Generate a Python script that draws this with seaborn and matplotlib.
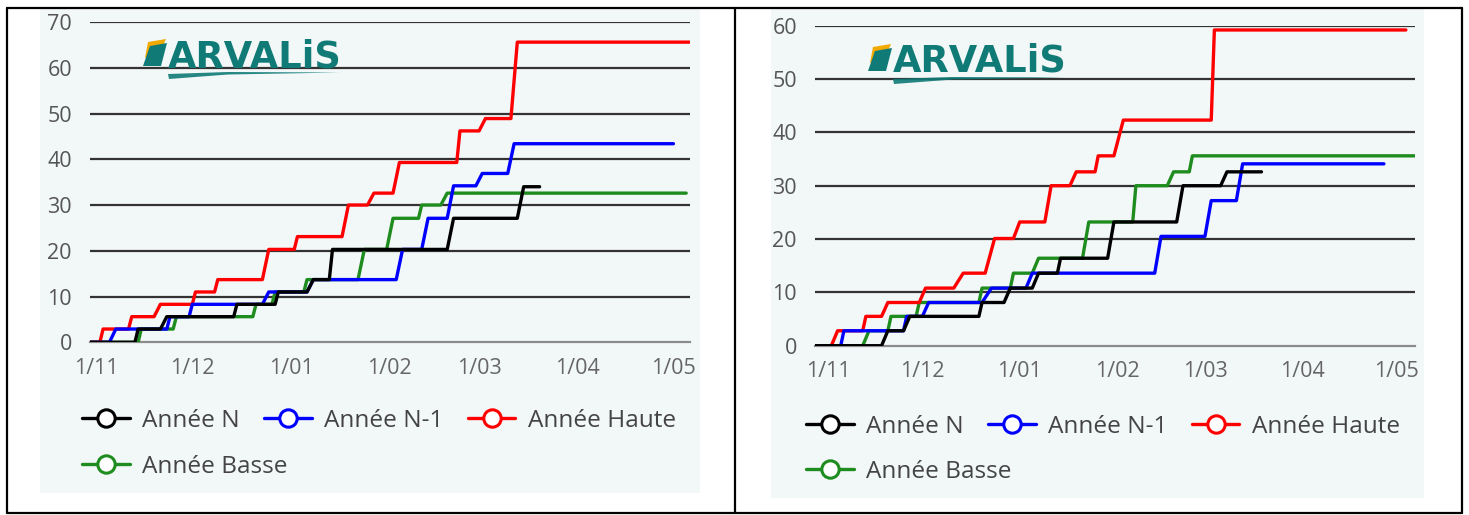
import matplotlib
matplotlib.use("Agg")
import matplotlib.pyplot as plt
import seaborn as sns
import pandas as pd
from matplotlib.lines import Line2D
from matplotlib.patches import Rectangle, Polygon

base = pd.Timestamp("2022-11-01")

# graphique de gauche
g_n_days = [-2, 12, 13, 20, 22, 43, 44, 56, 57, 66, 68, 73, 74, 110, 112, 132, 134, 139]
g_n_vals = [0, 0, 2.9, 2.9, 5.6, 5.6, 8.3, 8.3, 11.0, 11.0, 13.7, 13.7, 20.3, 20.3, 27.1, 27.1, 34.0, 34.0]
g_n1_days = [-2, 4, 6, 22, 23, 29, 30, 52, 54, 66, 68, 94, 96, 102, 104, 110, 112, 119, 121, 129, 131, 181]
g_n1_vals = [0, 0, 2.9, 2.9, 5.6, 5.6, 8.3, 8.3, 11.0, 11.0, 13.7, 13.7, 20.3, 20.3, 27.1, 27.1, 34.2, 34.2,
             36.9, 36.9, 43.4, 43.4]
g_haute_days = [-2, 1, 2, 10, 11, 18, 20, 30, 31, 37, 38, 52, 54, 62, 63, 77, 79, 85, 87, 93, 95, 113, 114,
                120, 122, 130, 132, 186]
g_haute_vals = [0, 0, 2.9, 2.9, 5.6, 5.6, 8.3, 8.3, 11.0, 11.0, 13.7, 13.7, 20.3, 20.3, 23.1, 23.1, 30.0, 30.0,
                32.6, 32.6, 39.3, 39.3, 46.2, 46.2, 48.9, 48.9, 65.6, 65.6]
g_basse_days = [-2, 13, 14, 24, 25, 49, 50, 55, 56, 65, 66, 82, 84, 91, 93, 101, 102, 108, 110, 185]
g_basse_vals = [0, 0, 2.9, 2.9, 5.6, 5.6, 8.3, 8.3, 11.0, 11.0, 13.7, 13.7, 20.3, 20.3, 27.1, 27.1, 30.0, 30.0,
                32.6, 32.6]

# graphique de droite
d_n_days = [-4, 17, 19, 24, 26, 48, 49, 56, 58, 65, 67, 73, 74, 89, 91, 111, 113, 125, 127, 138]
d_n_vals = [0, 0, 2.8, 2.8, 5.5, 5.5, 8.1, 8.1, 10.8, 10.8, 13.6, 13.6, 16.4, 16.4, 23.2, 23.2, 30.0, 30.0,
            32.6, 32.6]
d_n1_days = [-4, 4, 5, 24, 25, 30, 32, 49, 52, 63, 65, 104, 106, 120, 122, 130, 132, 177]
d_n1_vals = [0, 0, 2.8, 2.8, 5.5, 5.5, 8.1, 8.1, 10.8, 10.8, 13.6, 13.6, 20.5, 20.5, 27.2, 27.2, 34.1, 34.1]
d_haute_days = [-4, 1, 3, 11, 12, 17, 19, 29, 31, 40, 43, 50, 53, 59, 61, 69, 71, 77, 79, 85, 86, 91, 94,
                122, 123, 184]
d_haute_vals = [0, 0, 2.8, 2.8, 5.5, 5.5, 8.1, 8.1, 10.8, 10.8, 13.6, 13.6, 20.1, 20.1, 23.2, 23.2, 30.0, 30.0,
                32.6, 32.6, 35.6, 35.6, 42.3, 42.3, 59.2, 59.2]
d_basse_days = [-4, 11, 13, 19, 20, 28, 29, 48, 49, 58, 59, 65, 67, 81, 83, 97, 98, 108, 110, 115, 116, 187]
d_basse_vals = [0, 0, 2.8, 2.8, 5.5, 5.5, 8.1, 8.1, 10.8, 10.8, 13.6, 13.6, 16.4, 16.4, 23.2, 23.2, 30.0, 30.0,
                32.6, 32.6, 35.6, 35.6]

labels = ["Année N", "Année N-1", "Année Haute", "Année Basse"]
couleurs = {"Année N": "#000000", "Année N-1": "#0000ff", "Année Haute": "#ff0000", "Année Basse": "#1e8c1e"}
tick_days = [0, 30, 61, 92, 120, 151, 181]
tick_labels = ["1/11", "1/12", "1/01", "1/02", "1/03", "1/04", "1/05"]

gauche = {"Année N": (g_n_days, g_n_vals), "Année N-1": (g_n1_days, g_n1_vals),
          "Année Haute": (g_haute_days, g_haute_vals), "Année Basse": (g_basse_days, g_basse_vals)}
droite = {"Année N": (d_n_days, d_n_vals), "Année N-1": (d_n1_days, d_n1_vals),
          "Année Haute": (d_haute_days, d_haute_vals), "Année Basse": (d_basse_days, d_basse_vals)}

W, H = 1469, 515
fig = plt.figure(figsize=(W / 100, H / 100), dpi=100)
sns.set_style("white")
plt.rcParams["font.family"] = ["Open Sans", "DejaVu Sans"]


def fx(x):
    return x / W


def fy(y):
    return 1 - y / H


# fonds clairs et cadre du tableau
for (x0, y0, x1, y1) in [(40, 9, 700, 493), (771, 9, 1424, 498)]:
    fig.add_artist(Rectangle((fx(x0), fy(y1)), fx(x1) - fx(x0), fy(y0) - fy(y1),
                             transform=fig.transFigure, facecolor="#f2f7f7", edgecolor="none", zorder=-2))
for (xa, ya, xb, yb) in [(7, 8, 1462, 8), (7, 513, 1462, 513), (7, 8, 7, 513), (735, 8, 735, 513),
                         (1462, 8, 1462, 513)]:
    fig.add_artist(Line2D([fx(xa), fx(xb)], [fy(ya), fy(yb)], transform=fig.transFigure,
                          color="black", lw=1.6, zorder=10))


def panneau(rect, series, ymax, xlim, logo_x, logo_y, leg_x, leg_y1, leg_y2):
    left, top, right, bottom = rect
    ax = fig.add_axes([fx(left), fy(bottom), fx(right) - fx(left), fy(top) - fy(bottom)])
    ax.set_facecolor("none")
    for lab in ["Année Basse", "Année Haute", "Année N-1", "Année N"]:
        days, vals = series[lab]
        df = pd.DataFrame({"date": [base + pd.Timedelta(days=d) for d in days], "valeur": vals})
        sns.lineplot(data=df, x="date", y="valeur", ax=ax, color=couleurs[lab], lw=2.4,
                     estimator=None, sort=False, legend=False, zorder=3)
    ax.set_xlim(base + pd.Timedelta(days=xlim[0]), base + pd.Timedelta(days=xlim[1]))
    ax.set_ylim(0, ymax)
    ax.set_xticks([base + pd.Timedelta(days=d) for d in tick_days])
    ax.set_xticklabels(tick_labels)
    ax.set_yticks(range(0, ymax + 1, 10))
    ax.set_xlabel("")
    ax.set_ylabel("")
    for y in range(10, ymax + 1, 10):
        ax.axhline(y, color="#333333", lw=1.6, zorder=1)
    for s in ["top", "right", "left"]:
        ax.spines[s].set_visible(False)
    ax.spines["bottom"].set_color("#8c8c8c")
    ax.spines["bottom"].set_linewidth(1.6)
    ax.tick_params(axis="x", length=5, width=1.4, color="#8c8c8c", labelcolor="#666666",
                   labelsize=15.5, pad=6)
    ax.tick_params(axis="y", length=0, labelcolor="#555555", labelsize=15.5, pad=13)

    # logo ARVALiS
    lx, ly = logo_x, logo_y
    fig.add_artist(Polygon([(fx(lx - 20), fy(ly - 25)), (fx(lx - 2), fy(ly - 28)), (fx(lx - 6), fy(ly - 19)),
                            (fx(lx - 23), fy(ly - 9))], closed=True, transform=fig.transFigure,
                           facecolor="#f2a900", edgecolor="none", zorder=5))
    fig.add_artist(Polygon([(fx(lx - 18), fy(ly - 21)), (fx(lx - 1), fy(ly - 24)), (fx(lx - 7), fy(ly - 1)),
                            (fx(lx - 25), fy(ly - 1))], closed=True, transform=fig.transFigure,
                           facecolor="#0f7a76", edgecolor="none", zorder=6))
    fig.text(fx(lx), fy(ly), "ARVALiS", family="DejaVu Sans", weight="bold", fontsize=26.5,
             color="#0f7a76", ha="left", va="baseline", zorder=6)
    fig.add_artist(Polygon([(fx(lx), fy(ly + 7)), (fx(lx + 60), fy(ly + 5)), (fx(lx + 172), fy(ly + 5.5)),
                            (fx(lx + 60), fy(ly + 7.5)), (fx(lx + 1), fy(ly + 12))], closed=True,
                           transform=fig.transFigure, facecolor="#0f7a76", edgecolor="none",
                           alpha=0.9, zorder=6))

    # legende en deux rangees
    handles = {lab: Line2D([], [], color=couleurs[lab], lw=2.4, marker="o", markersize=12.5,
                           markerfacecolor="white", markeredgecolor=couleurs[lab], markeredgewidth=2.2)
               for lab in labels}
    opts = dict(loc="center left", frameon=False, fontsize=17.6, labelcolor="#444444", handlelength=1.95,
                handletextpad=0.5, columnspacing=1.0, borderpad=0, borderaxespad=0)
    fig.legend([handles[lab] for lab in labels[:3]], labels[:3], ncol=3,
               bbox_to_anchor=(fx(leg_x), fy(leg_y1)), **opts)
    fig.legend([handles[labels[3]]], labels[3:], ncol=1,
               bbox_to_anchor=(fx(leg_x), fy(leg_y2)), **opts)
    return ax


panneau((90, 22, 690, 342.3), gauche, 70, (-2.1, 186.2), 168, 67, 82, 421, 467)
panneau((815, 25.7, 1415, 345.7), droite, 60, (-4.2, 186.9), 893, 72, 806, 427, 472)

fig.savefig("out.png", dpi=100)
